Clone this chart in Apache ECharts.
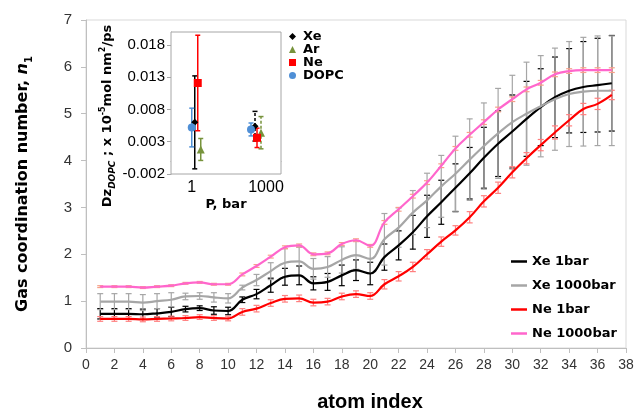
<!DOCTYPE html>
<html>
<head>
<meta charset="utf-8">
<script src="https://cdn.jsdelivr.net/npm/echarts@6/dist/echarts.min.js"></script>
<style>
html,body{margin:0;padding:0;background:#fff;}
#main{width:637px;height:417px;}
</style>
</head>
<body>
<div id="main"></div>
<script>
// main plot: atom index 1..37
var atomIndex = [1,2,3,4,5,6,7,8,9,10,11,12,13,14,15,16,17,18,19,20,21,22,23,24,25,26,27,28,29,30,31,32,33,34,35,36,37];

var xe1 = [0.73,0.73,0.73,0.72,0.74,0.77,0.83,0.85,0.80,0.79,1.03,1.15,1.34,1.52,1.55,1.38,1.41,1.55,1.66,1.59,
           1.94,2.19,2.47,2.81,3.11,3.42,3.73,4.06,4.36,4.62,4.89,5.14,5.35,5.49,5.57,5.61,5.65];
var xe1Err = [0.11,0.11,0.11,0.11,0.1,0.1,0.06,0.05,0.08,0.08,0.06,0.1,0.15,0.18,0.2,0.14,0.18,0.22,0.22,0.24,
              0.28,0.31,0.36,0.45,0.47,0.51,0.55,0.65,0.7,0.78,0.8,0.82,0.86,0.9,0.97,1.0,1.02];

var xe1000 = [0.99,0.99,0.99,0.97,1.0,1.03,1.10,1.11,1.08,1.06,1.29,1.45,1.64,1.82,1.85,1.69,1.73,1.88,1.98,1.90,
              2.32,2.57,2.89,3.15,3.45,3.72,4.02,4.31,4.58,4.82,5.0,5.16,5.31,5.42,5.47,5.49,5.49];
var xe1000Err = [0.17,0.17,0.17,0.17,0.16,0.15,0.07,0.07,0.1,0.1,0.05,0.12,0.18,0.3,0.3,0.22,0.22,0.28,0.3,0.3,
                 0.55,0.42,0.47,0.58,0.66,0.8,0.87,0.92,0.96,1.0,1.1,1.08,1.09,1.12,1.16,1.17,1.17];

var ne1 = [0.62,0.62,0.62,0.61,0.62,0.63,0.64,0.66,0.64,0.63,0.77,0.84,0.96,1.05,1.06,0.97,0.99,1.10,1.15,1.11,
           1.36,1.53,1.73,2.0,2.27,2.51,2.79,3.13,3.42,3.75,4.05,4.33,4.60,4.86,5.10,5.21,5.40];
var ne1Err = [0.05,0.05,0.05,0.05,0.05,0.05,0.05,0.05,0.05,0.05,0.07,0.07,0.07,0.07,0.07,0.07,0.07,0.07,0.07,0.07,
              0.1,0.1,0.1,0.1,0.1,0.1,0.12,0.12,0.12,0.12,0.12,0.12,0.14,0.12,0.12,0.12,0.1];

var ne1000 = [1.31,1.31,1.31,1.29,1.31,1.33,1.38,1.40,1.36,1.36,1.57,1.75,1.95,2.15,2.19,2.00,2.02,2.22,2.30,2.18,
              2.68,2.96,3.24,3.53,3.89,4.26,4.55,4.82,5.09,5.31,5.52,5.66,5.84,5.91,5.93,5.93,5.93];
var ne1000Err = [0.02,0.02,0.02,0.02,0.02,0.02,0.02,0.02,0.02,0.02,0.03,0.03,0.03,0.03,0.03,0.03,0.03,0.03,0.03,0.03,
                 0.04,0.04,0.04,0.04,0.04,0.04,0.05,0.05,0.05,0.05,0.05,0.05,0.05,0.05,0.05,0.05,0.05];

// inset: diffusion vs pressure
var pressures = [1, 1000];
var insetGas = ['Xe', 'Ar', 'Ne', 'DOPC'];
var dzXe = [0.0060, 0.0054],   dzXeErr = [0.0072, 0.0023];
var dzAr = [0.0018, 0.0044],   dzArErr = [0.0017, 0.0025];
var dzNe = [0.0121, 0.0036],   dzNeErr = [0.0074, 0.0015];
var dzDopc = [0.0052, 0.0049], dzDopcErr = [0.0030, 0.0010];

var chart = echarts.init(document.getElementById('main'));

function errBars(vals, errs, color, z) {
  return {
    type: 'custom', silent: true, z: z,
    xAxisIndex: 0, yAxisIndex: 0,
    encode: {x: 0, y: [1, 2]},
    data: atomIndex.map(function (x, i) { return [x, vals[i] - errs[i], vals[i] + errs[i]]; }),
    renderItem: function (params, api) {
      var lo = api.coord([api.value(0), api.value(1)]);
      var hi = api.coord([api.value(0), api.value(2)]);
      var st = {stroke: color, lineWidth: 1.2};
      return {type: 'group', children: [
        {type: 'line', shape: {x1: lo[0], y1: lo[1], x2: hi[0], y2: hi[1]}, style: st},
        {type: 'line', shape: {x1: lo[0] - 3, y1: lo[1], x2: lo[0] + 3, y2: lo[1]}, style: st},
        {type: 'line', shape: {x1: hi[0] - 3, y1: hi[1], x2: hi[0] + 3, y2: hi[1]}, style: st}
      ]};
    }
  };
}

function mainLine(name, vals, color) {
  return {
    name: name, type: 'line', xAxisIndex: 0, yAxisIndex: 0, z: 5,
    smooth: 0.4, showSymbol: false, symbol: 'none',
    lineStyle: {color: color, width: 2.2},
    itemStyle: {color: color},
    data: atomIndex.map(function (x, i) { return [x, vals[i]]; })
  };
}

// pixel shifts so the inset markers don't sit on top of each other
var insetShift = {Xe: [3, 1], Ar: [9, 7], Ne: [6, 3], DOPC: [0, -3]};
var insetLook = {
  Xe: {color: '#000000', symbol: 'diamond', size: 7, dash: [false, true]},
  Ar: {color: '#77933c', symbol: 'triangle', size: 8, dash: [false, true]},
  Ne: {color: '#ff0000', symbol: 'rect', size: 8, dash: [false, false]},
  DOPC: {color: '#4f8fd6', symbol: 'circle', size: 8, dash: [false, false]}
};

function insetSeries(name, vals, errs) {
  var lk = insetLook[name], sh = insetShift[name];
  return [{
    name: name + ' err', type: 'custom', silent: true, z: 6,
    xAxisIndex: 1, yAxisIndex: 1,
    encode: {x: 0, y: [1, 2]},
    data: pressures.map(function (p, i) { return [p, vals[i] - errs[i], vals[i] + errs[i], i]; }),
    renderItem: function (params, api) {
      var k = api.value(3);
      var lo = api.coord([api.value(0), api.value(1)]);
      var hi = api.coord([api.value(0), api.value(2)]);
      var x = lo[0] + sh[k];
      var st = {stroke: lk.color, lineWidth: 1.5, lineDash: lk.dash[k] ? [3, 2] : null};
      var cap = {stroke: lk.color, lineWidth: 1.5};
      return {type: 'group', children: [
        {type: 'line', shape: {x1: x, y1: lo[1], x2: x, y2: hi[1]}, style: st},
        {type: 'line', shape: {x1: x - 2.5, y1: lo[1], x2: x + 2.5, y2: lo[1]}, style: cap},
        {type: 'line', shape: {x1: x - 2.5, y1: hi[1], x2: x + 2.5, y2: hi[1]}, style: cap}
      ]};
    }
  }, {
    name: name, type: 'scatter', z: 7,
    xAxisIndex: 1, yAxisIndex: 1,
    symbol: lk.symbol, symbolSize: lk.size,
    itemStyle: {color: lk.color, opacity: 1},
    data: pressures.map(function (p, i) {
      return {value: [p, vals[i]], symbolOffset: [sh[i], 0]};
    })
  }];
}

var tickFont = {fontFamily: 'Liberation Sans', fontSize: 14, color: '#333'};

var option = {
  animation: false,
  backgroundColor: '#fff',
  grid: [
    {left: 86, top: 20, width: 540, height: 332, show: true, borderColor: '#d9d9d9', borderWidth: 1},
    {left: 171, top: 32, width: 110, height: 142, show: true, borderColor: '#a6a6a6', borderWidth: 1, backgroundColor: '#fff', z: 3}
  ],
  legend: [{
    orient: 'vertical', left: 506, top: 250, itemGap: 11,
    icon: 'rect', itemWidth: 16, itemHeight: 2.5,
    textStyle: {fontFamily: 'DejaVu Sans', fontWeight: 'bold', fontSize: 13, color: '#000'},
    data: ['Xe 1bar', 'Xe 1000bar', 'Ne 1bar', 'Ne 1000bar']
  }, {
    orient: 'vertical', left: 284, top: 25, itemGap: 0,
    itemWidth: 7, itemHeight: 7,
    textStyle: {fontFamily: 'DejaVu Sans', fontWeight: 'bold', fontSize: 13, color: '#000', padding: [0, 0, 0, 2]},
    data: insetGas.map(function (g) { return {name: g, icon: insetLook[g].symbol}; })
  }],
  xAxis: [{
    type: 'value', gridIndex: 0, min: 0, max: 38, interval: 2,
    axisLine: {lineStyle: {color: '#bfbfbf'}},
    axisTick: {show: true, length: 5, lineStyle: {color: '#bfbfbf'}},
    splitLine: {show: false},
    axisLabel: Object.assign({margin: 10}, tickFont),
    name: 'atom index', nameLocation: 'middle', nameGap: 44,
    nameTextStyle: {fontFamily: 'Liberation Sans', fontWeight: 'bold', fontSize: 20, color: '#000', padding: [0, 0, 0, 28]}
  }, {
    type: 'log', gridIndex: 1, logBase: 1000, min: 0.1, max: 20000,
    axisLine: {lineStyle: {color: '#a6a6a6'}},
    axisTick: {show: true, length: 4, lineStyle: {color: '#a6a6a6'}},
    splitLine: {show: false},
    axisLabel: Object.assign({margin: 6, showMinLabel: false, showMaxLabel: false,
      formatter: function (v) {
        var r = Math.round(v);
        if (r === 1) return '1';
        if (r === 1000) return '{k|1000}';
        return '';
      },
      rich: {k: {fontFamily: 'Liberation Sans', fontSize: 16, color: '#000', padding: [0, 0, 0, 24]}}},
      tickFont, {fontSize: 16, color: '#000'}),
    name: 'P, bar', nameLocation: 'middle', nameGap: 24,
    nameTextStyle: {fontFamily: 'DejaVu Sans', fontWeight: 'bold', fontSize: 13, color: '#000'}
  }],
  yAxis: [{
    type: 'value', gridIndex: 0, min: 0, max: 7, interval: 1,
    axisLine: {show: true, lineStyle: {color: '#bfbfbf'}},
    axisTick: {show: true, length: 5, lineStyle: {color: '#bfbfbf'}},
    splitLine: {show: false},
    axisLabel: Object.assign({margin: 14}, tickFont, {fontSize: 15}),
    name: '{t|Gas coordination number, }{i|n}{s|1}',
    nameLocation: 'middle', nameGap: 52,
    nameTextStyle: {
      rich: {
        t: {fontFamily: 'DejaVu Sans', fontWeight: 'bold', fontSize: 16, color: '#000', lineHeight: 22},
        i: {fontFamily: 'DejaVu Sans', fontWeight: 'bold', fontStyle: 'italic', fontSize: 16, color: '#000', lineHeight: 22},
        s: {fontFamily: 'DejaVu Sans', fontWeight: 'bold', fontSize: 10, color: '#000', verticalAlign: 'bottom', lineHeight: 14}
      }
    }
  }, {
    type: 'value', gridIndex: 1, min: -0.002, max: 0.02, interval: 0.005,
    axisLine: {show: true, lineStyle: {color: '#a6a6a6'}},
    axisTick: {show: true, length: 4, lineStyle: {color: '#a6a6a6'}},
    splitLine: {show: false},
    axisLabel: Object.assign({margin: 6, showMaxLabel: false}, tickFont, {fontSize: 15, color: '#000'}),
    name: '{t|Dz}{b|DOPC}{t| ; x 10}{p|-5}{t|mol nm}{p|2}{t|/ps}',
    nameLocation: 'middle', nameGap: 54,
    nameTextStyle: {
      padding: [0, 26, 0, 0],
      rich: {
        t: {fontFamily: 'DejaVu Sans', fontWeight: 'bold', fontSize: 13, color: '#000', lineHeight: 18},
        b: {fontFamily: 'DejaVu Sans', fontWeight: 'bold', fontStyle: 'italic', fontSize: 9, color: '#000', verticalAlign: 'bottom', lineHeight: 12},
        p: {fontFamily: 'DejaVu Sans', fontWeight: 'bold', fontSize: 8, color: '#000', verticalAlign: 'top', lineHeight: 12}
      }
    }
  }],
  series: [
    errBars(xe1, xe1Err, '#000000', 2),
    errBars(xe1000, xe1000Err, '#a6a6a6', 3),
    errBars(ne1, ne1Err, '#ff7f7f', 3),
    errBars(ne1000, ne1000Err, '#f7a08a', 3),
    mainLine('Xe 1bar', xe1, '#000000'),
    mainLine('Xe 1000bar', xe1000, '#a6a6a6'),
    mainLine('Ne 1bar', ne1, '#ff0000'),
    mainLine('Ne 1000bar', ne1000, '#ff66cc')
  ].concat(
    insetSeries('Xe', dzXe, dzXeErr),
    insetSeries('Ar', dzAr, dzArErr),
    insetSeries('Ne', dzNe, dzNeErr),
    insetSeries('DOPC', dzDopc, dzDopcErr)
  )
};

chart.setOption(option);
</script>
</body>
</html>
